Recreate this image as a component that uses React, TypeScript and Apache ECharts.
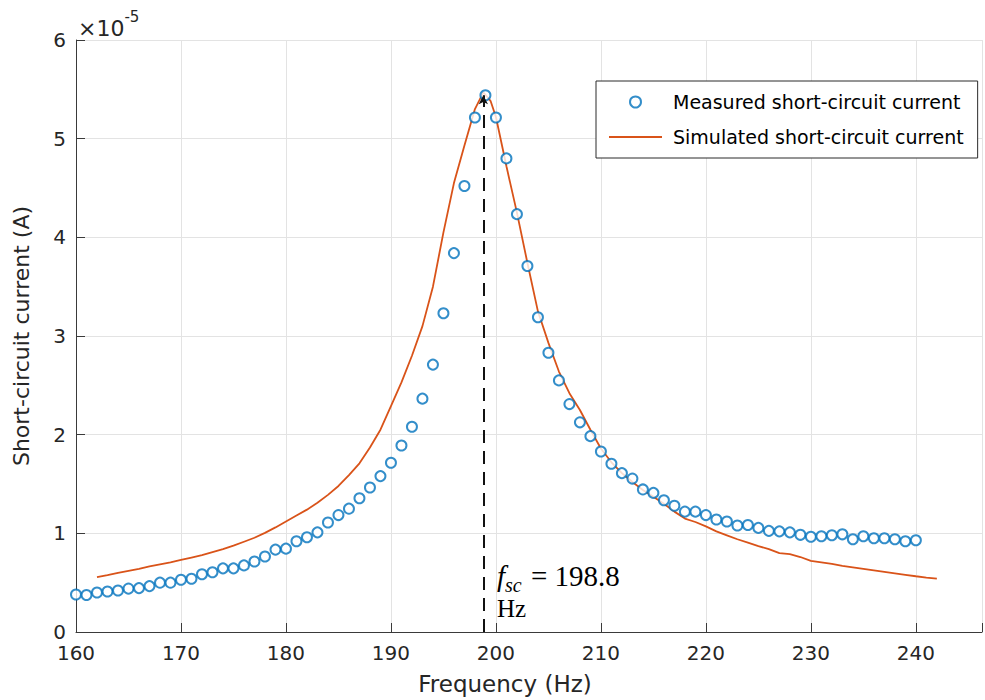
import React, { useEffect, useRef } from "react";
import * as echarts from "echarts";

// Measured short-circuit current (units of 1e-5 A), one point per Hz
const measuredFreq = [
  160, 161, 162, 163, 164, 165, 166, 167, 168, 169,
  170, 171, 172, 173, 174, 175, 176, 177, 178, 179,
  180, 181, 182, 183, 184, 185, 186, 187, 188, 189,
  190, 191, 192, 193, 194, 195, 196, 197, 198, 199,
  200, 201, 202, 203, 204, 205, 206, 207, 208, 209,
  210, 211, 212, 213, 214, 215, 216, 217, 218, 219,
  220, 221, 222, 223, 224, 225, 226, 227, 228, 229,
  230, 231, 232, 233, 234, 235, 236, 237, 238, 239, 240,
];
const measuredCurrent = [
  0.38, 0.375, 0.4, 0.41, 0.42, 0.44, 0.445, 0.465, 0.5, 0.5,
  0.53, 0.54, 0.585, 0.605, 0.645, 0.645, 0.675, 0.715, 0.765, 0.835,
  0.845, 0.92, 0.96, 1.01, 1.11, 1.185, 1.25, 1.355, 1.465, 1.58,
  1.715, 1.89, 2.08, 2.365, 2.71, 3.23, 3.84, 4.52, 5.215, 5.44,
  5.215, 4.8, 4.235, 3.71, 3.19, 2.83, 2.55, 2.31, 2.125, 1.985,
  1.83, 1.705, 1.61, 1.555, 1.445, 1.41, 1.335, 1.28, 1.22, 1.22,
  1.185, 1.14, 1.12, 1.08, 1.085, 1.055, 1.025, 1.02, 1.01, 0.985,
  0.965, 0.97, 0.98, 0.99, 0.94, 0.97, 0.95, 0.95, 0.94, 0.92, 0.93,
];

// Simulated short-circuit current (units of 1e-5 A)
const simFreq = [
  162, 163, 164, 165, 166, 167, 168, 169, 170, 171,
  172, 173, 174, 175, 176, 177, 178, 179, 180, 181,
  182, 183, 184, 185, 186, 187, 188, 189, 190, 191,
  192, 193, 194, 195, 196, 197, 198, 198.8, 199.5, 200,
  201, 202, 203, 204, 205, 206, 207, 208, 209, 210,
  211, 212, 213, 214, 215, 216, 217, 218, 219, 220,
  221, 222, 223, 224, 225, 226, 227, 228, 229, 230,
  231, 232, 233, 234, 235, 236, 237, 238, 239, 240, 241, 242,
];
const simCurrent = [
  0.557, 0.577, 0.6, 0.62, 0.64, 0.665, 0.685, 0.705, 0.73, 0.755,
  0.78, 0.81, 0.84, 0.875, 0.915, 0.955, 1.005, 1.06, 1.12, 1.18,
  1.24, 1.31, 1.39, 1.48, 1.59, 1.71, 1.87, 2.05, 2.29, 2.53,
  2.8, 3.1, 3.5, 4.05, 4.55, 4.93, 5.3, 5.47, 5.38, 5.22,
  4.72, 4.25, 3.74, 3.25, 2.93, 2.64, 2.42, 2.25, 2.05, 1.86,
  1.72, 1.61, 1.52, 1.44, 1.37, 1.3, 1.22, 1.15, 1.115, 1.07,
  1.02, 0.98, 0.94, 0.905, 0.87, 0.84, 0.8, 0.79, 0.76, 0.72,
  0.705, 0.69, 0.67, 0.655, 0.64, 0.625, 0.61, 0.595, 0.58, 0.565, 0.552, 0.54,
];

const xTicks = [160, 170, 180, 190, 200, 210, 220, 230, 240];
const yTicks = [0, 1, 2, 3, 4, 5, 6];
const fsc = 198.8;
const fscPeak = 5.44;
const annotationAnchor = [200, 0.7];
const measuredName = "Measured short-circuit current";
const simulatedName = "Simulated short-circuit current";

const SANS = "DejaVu Sans";
const SERIF = "Liberation Serif";
const AXIS_COLOR = "#3a3a3a";
const GRID_COLOR = "#e3e3e3";
const BLUE = "#0072BD";
const ORANGE = "#D95319";

export default function App() {
  const ref = useRef<HTMLDivElement>(null);

  useEffect(() => {
    document.body.style.margin = "0";
    if (!ref.current) return;
    const chart = echarts.init(ref.current, undefined, { renderer: "svg" });

    const measured = measuredFreq.map((f, i) => [f, measuredCurrent[i]]);
    const simulated = simFreq.map((f, i) => [f, simCurrent[i]]);

    chart.setOption({
      animation: false,
      backgroundColor: "#ffffff",
      grid: { left: 76, right: 0, top: 40, bottom: 67, containLabel: false },
      legend: {
        orient: "vertical",
        left: 596,
        top: 81,
        backgroundColor: "#ffffff",
        borderColor: "#2a2a2a",
        borderWidth: 1,
        borderRadius: 0,
        padding: [10, 14, 10, 13],
        itemWidth: 53,
        itemHeight: 11,
        itemGap: 13,
        textStyle: {
          fontFamily: SANS,
          fontSize: 19,
          color: "#000000",
          lineHeight: 22,
          padding: [0, 0, 0, 6],
        },
        data: [
          { name: measuredName },
          { name: simulatedName, icon: "path://M0,0 H53 V1.8 H0 Z", itemStyle: { color: ORANGE } },
        ],
      },
      xAxis: {
        type: "value",
        min: 160,
        max: 246.3,
        interval: 10,
        name: "Frequency (Hz)",
        nameLocation: "middle",
        nameGap: 40,
        nameTextStyle: {
          fontFamily: SANS,
          fontSize: 23,
          color: "#262626",
          padding: [0, 48, 0, 0],
        },
        axisLine: { show: true, onZero: false, lineStyle: { color: AXIS_COLOR, width: 1 } },
        axisTick: { show: true, inside: true, length: 9, lineStyle: { color: AXIS_COLOR } },
        axisLabel: {
          fontFamily: SANS,
          fontSize: 20,
          color: "#262626",
          margin: 11,
          formatter: (v: number) => (xTicks.includes(v) ? String(v) : ""),
        },
        splitLine: { show: true, lineStyle: { color: GRID_COLOR, width: 1 } },
      },
      yAxis: {
        type: "value",
        min: 0,
        max: 6,
        interval: 1,
        name: "Short-circuit current (A)",
        nameLocation: "middle",
        nameGap: 44,
        nameTextStyle: { fontFamily: SANS, fontSize: 22, color: "#262626" },
        axisLine: { show: true, onZero: false, lineStyle: { color: AXIS_COLOR, width: 1 } },
        axisTick: { show: true, inside: true, length: 9, lineStyle: { color: AXIS_COLOR } },
        axisLabel: {
          fontFamily: SANS,
          fontSize: 20,
          color: "#262626",
          margin: 10,
          formatter: (v: number) => (yTicks.includes(v) ? String(v) : ""),
        },
        splitLine: { show: true, lineStyle: { color: GRID_COLOR, width: 1 } },
      },
      series: [
        {
          name: simulatedName,
          type: "line",
          data: simulated,
          symbol: "none",
          showSymbol: false,
          smooth: false,
          lineStyle: { color: ORANGE, width: 1.8 },
          itemStyle: { color: ORANGE },
          z: 2,
        },
        {
          name: measuredName,
          type: "scatter",
          data: measured,
          symbol: "emptyCircle",
          symbolSize: 10,
          itemStyle: { color: BLUE, borderColor: BLUE, borderWidth: 2 },
          z: 3,
          markLine: {
            silent: true,
            symbol: ["none", "arrow"],
            symbolSize: [7, 9],
            label: { show: false },
            lineStyle: { color: "#111111", width: 2, type: [13, 8] },
            data: [[{ coord: [fsc, 0] }, { coord: [fsc, fscPeak] }]],
          },
        },
      ],
    });

    const anchor = chart.convertToPixel({ gridIndex: 0 }, annotationAnchor) as number[];

    chart.setOption({
      graphic: [
        {
          type: "text",
          x: 78,
          y: 9,
          style: {
            text: "{a|×10}{b|-5}",
            fill: "#262626",
            align: "left",
            verticalAlign: "top",
            rich: {
              a: { fontFamily: SANS, fontSize: 22, lineHeight: 30, verticalAlign: "bottom", fill: "#262626" },
              b: { fontFamily: SANS, fontSize: 15, lineHeight: 30, verticalAlign: "top", fill: "#262626" },
            },
          },
        },
        {
          type: "text",
          x: anchor[0] + 1,
          y: anchor[1],
          z: 10,
          style: {
            text: "{f|f}{s|sc}{e| = " + fsc + "}",
            fill: "#000000",
            align: "left",
            verticalAlign: "top",
            rich: {
              f: { fontFamily: SERIF, fontStyle: "italic", fontSize: 29, lineHeight: 28, verticalAlign: "bottom" },
              s: {
                fontFamily: SERIF,
                fontStyle: "italic",
                fontSize: 20,
                lineHeight: 22,
                verticalAlign: "bottom",
                padding: [0, 0, -4, 0],
              },
              e: { fontFamily: SERIF, fontSize: 29, lineHeight: 28, verticalAlign: "bottom", padding: [0, 0, 0, 2] },
            },
          },
        },
        {
          type: "text",
          x: anchor[0] + 1,
          y: anchor[1] + 33,
          z: 10,
          style: {
            text: "Hz",
            fontFamily: SERIF,
            fontSize: 25,
            lineHeight: 25,
            fill: "#000000",
            align: "left",
            verticalAlign: "top",
          },
        },
      ],
    });

    return () => chart.dispose();
  }, []);

  return <div ref={ref} style={{ width: 985, height: 700 }} />;
}
